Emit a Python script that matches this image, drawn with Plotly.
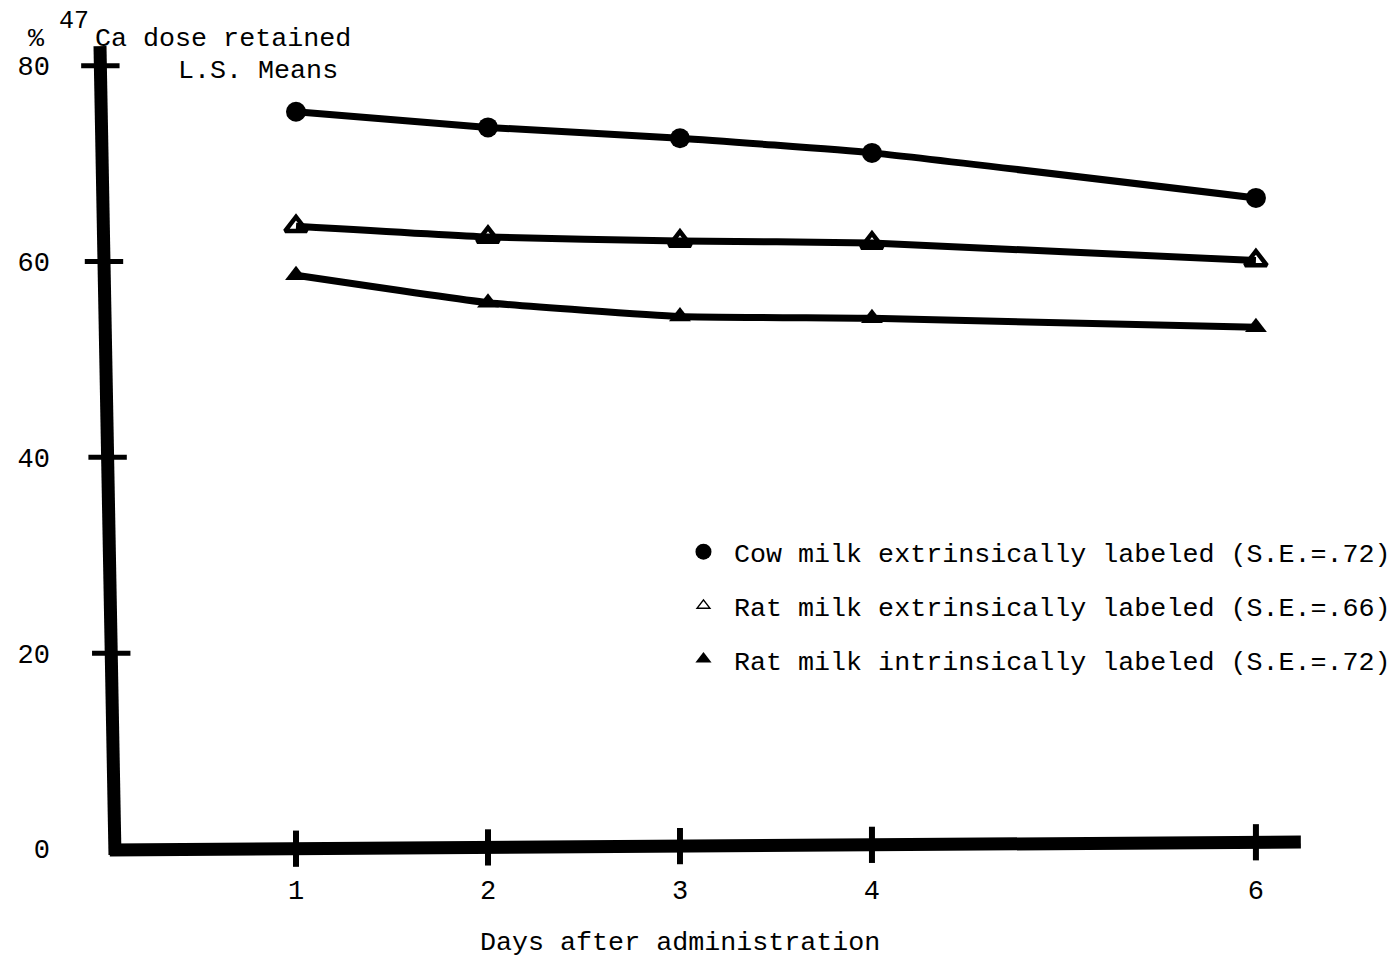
import plotly.graph_objects as go

days = [1, 2, 3, 4, 6]
cow_ext = [75.3, 73.7, 72.6, 71.1, 66.5]
rat_ext = [63.6, 62.5, 62.1, 61.9, 60.1]
rat_int = [58.6, 55.8, 54.4, 54.2, 53.3]
series_names = [
    "Cow milk extrinsically labeled (S.E.=.72)",
    "Rat milk extrinsically labeled (S.E.=.66)",
    "Rat milk intrinsically labeled (S.E.=.72)",
]
y_ticks = [0, 20, 40, 60, 80]
x_ticks = [1, 2, 3, 4, 6]

FONT = "Liberation Mono, Courier New, monospace"
FS = 26.7

fig = go.Figure()

styles = [
    dict(symbol="circle", size=20, color="black", line=dict(width=0)),
    dict(symbol="triangle-up-open", size=19, color="black", line=dict(width=4.5, color="black")),
    dict(symbol="triangle-up", size=19, color="black", line=dict(width=0)),
]
legend_styles = [
    dict(symbol="circle", size=18, color="black"),
    dict(symbol="triangle-up-open", size=11, color="black", line=dict(width=1.5, color="black")),
    dict(symbol="triangle-up", size=14, color="black"),
]

for vals, st in zip([cow_ext, rat_ext, rat_int], styles):
    fig.add_trace(go.Scatter(
        x=days, y=vals, mode="lines+markers",
        line=dict(color="black", width=7, shape="spline", smoothing=0.4),
        marker=st, showlegend=False, hoverinfo="skip",
    ))

for i, (name, st) in enumerate(zip(series_names, legend_styles)):
    fig.add_trace(go.Scatter(
        x=[None], y=[None], mode="markers", name=name,
        marker=st, legendgroup=f"g{i}", showlegend=True,
    ))

# slightly tilted hand-drawn axes (as in the scanned original)
ax_bottom_x, ax_top_x = 0.057, -0.021
ax_y0, ax_y1 = -0.6, 82.0
xa_left_y, xa_right_y = -0.1, 0.715
xa_x0, xa_x1 = 0.03, 6.234

def yaxis_x_at(v):
    return ax_bottom_x + (ax_top_x - ax_bottom_x) * (v - ax_y0) / (ax_y1 - ax_y0)

def xaxis_y_at(d):
    return xa_left_y + (xa_right_y - xa_left_y) * (d - xa_x0) / (xa_x1 - xa_x0)

shapes = []
shapes.append(dict(type="line", xref="x", yref="y", x0=ax_bottom_x, x1=ax_top_x,
                   y0=ax_y0, y1=ax_y1, line=dict(color="black", width=13), layer="above"))
shapes.append(dict(type="line", xref="x", yref="y", x0=xa_x0, x1=xa_x1,
                   y0=xa_left_y, y1=xa_right_y, line=dict(color="black", width=13), layer="above"))
for t in y_ticks[1:]:
    cx = yaxis_x_at(t)
    shapes.append(dict(type="line", xref="x", yref="y", x0=cx - 0.1, x1=cx + 0.1, y0=t, y1=t,
                       line=dict(color="black", width=5), layer="above"))
for t in x_ticks:
    cy = xaxis_y_at(t)
    shapes.append(dict(type="line", xref="x", yref="y", x0=t, x1=t, y0=cy - 1.85, y1=cy + 1.85,
                       line=dict(color="black", width=6), layer="above"))

L, T, R, B = 68, 28, 87, 96
OFF = 7  # page offset of the figure

def ann(text, px, py, size=FS, anchor="left"):
    return dict(text=text, xref="paper", yref="paper", x=0, y=1,
                xshift=(px - OFF) - L, yshift=T - (py - OFF), xanchor=anchor, yanchor="middle",
                showarrow=False, font=dict(family=FONT, size=size, color="black"))

annotations = [
    ann("%", 35, 38, anchor="center"),
    ann("47", 56, 20, size=25),
    ann("Ca dose retained", 92, 38),
    ann("L.S. Means", 175, 70),
    dict(text="Days after administration", xref="x", yref="paper", x=3.0, y=0,
         yanchor="middle", yshift=-72, showarrow=False,
         font=dict(family=FONT, size=FS, color="black")),
]

fig.update_layout(
    width=1400, height=959,
    margin=dict(l=L, r=R, t=T, b=B, autoexpand=False),
    paper_bgcolor="white", plot_bgcolor="white",
    font=dict(family=FONT, size=FS, color="black"),
    shapes=shapes, annotations=annotations,
    xaxis=dict(range=[-0.146, 6.339], tickvals=x_ticks, ticktext=[str(t) for t in x_ticks],
               showgrid=False, zeroline=False, showline=False, ticks="",
               ticklabelstandoff=0, tickfont=dict(family=FONT, size=27)),
    yaxis=dict(range=[-2.25, 83.04], tickvals=y_ticks, ticktext=[str(t) for t in y_ticks],
               showgrid=False, zeroline=False, showline=False, ticks="",
               ticklabelstandoff=25, tickfont=dict(family=FONT, size=27)),
    legend=dict(x=0.4795, y=0.411, xanchor="left", yanchor="top",
                font=dict(family=FONT, size=FS, color="black"),
                tracegroupgap=16, itemwidth=51, bgcolor="rgba(0,0,0,0)"),
    showlegend=True,
)

fig.write_html("out.html")
